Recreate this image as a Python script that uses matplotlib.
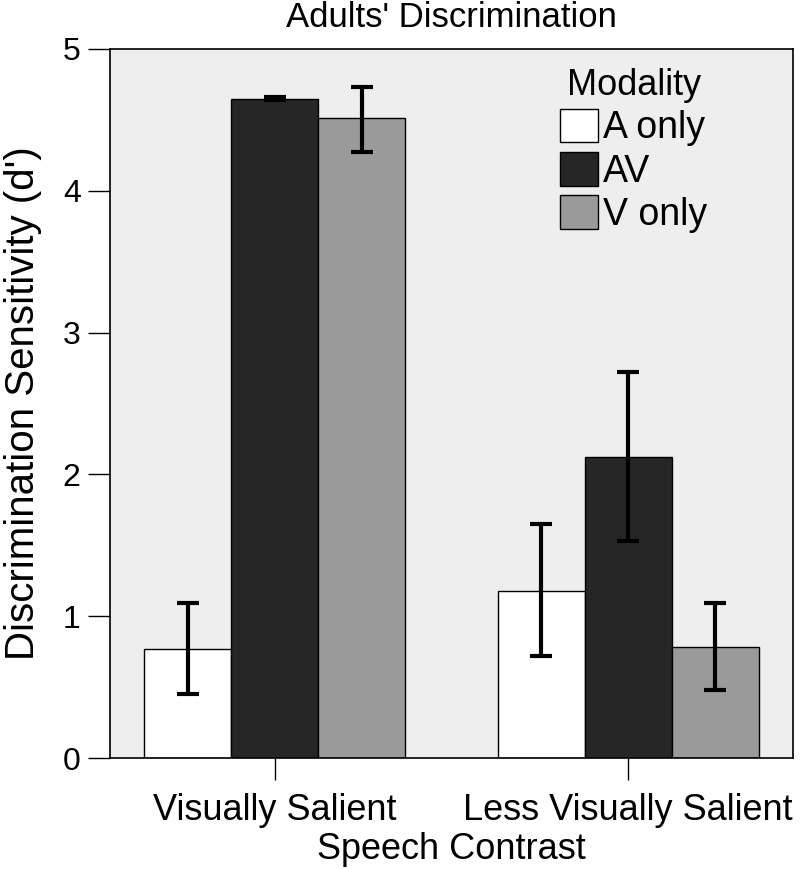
import numpy as np
import matplotlib
matplotlib.use("Agg")
import matplotlib.pyplot as plt

plt.rcParams['font.family'] = ['Liberation Sans', 'DejaVu Sans']

contrasts = ["Visually Salient", "Less Visually Salient"]
modalities = ["A only", "AV", "V only"]
colors = ["#ffffff", "#262626", "#9a9a9a"]

# mean d' and error bar bounds per modality (VS, LVS)
means = {
    "A only": [0.77, 1.18],
    "AV": [4.65, 2.12],
    "V only": [4.51, 0.78],
}
err_low = {
    "A only": [0.45, 0.72],
    "AV": [4.64, 1.53],
    "V only": [4.27, 0.48],
}
err_high = {
    "A only": [1.09, 1.65],
    "AV": [4.66, 2.72],
    "V only": [4.73, 1.09],
}

fig = plt.figure(figsize=(8.02, 8.69), dpi=100)
ax = fig.add_axes([0.137, 0.1277, 0.852, 0.816])
ax.set_facecolor("#eeeeee")

x = np.arange(len(contrasts))
w = 0.246
for i, m in enumerate(modalities):
    pos = x + (i - 1) * w
    vals = np.array(means[m])
    lo = vals - np.array(err_low[m])
    hi = np.array(err_high[m]) - vals
    ax.bar(pos, vals, w, color=colors[i], edgecolor="black", linewidth=1.0,
           label=m, zorder=2)
    ax.errorbar(pos, vals, yerr=[lo, hi], fmt="none", ecolor="black",
                elinewidth=3.0, capsize=8, capthick=3.0, zorder=3)

ax.set_xlim(-0.467, 1.467)
ax.set_ylim(0, 5)
ax.set_yticks([0, 1, 2, 3, 4, 5])
ax.set_xticks(x)
ax.set_xticklabels(contrasts, fontsize=26)
ax.tick_params(axis="y", labelsize=23, length=16, width=1, pad=5)
ax.tick_params(axis="x", length=16, width=1, pad=9)
for s in ax.spines.values():
    s.set_linewidth(1.2)

ax.set_ylabel("Discrimination Sensitivity (d')", fontsize=29, labelpad=15)
ax.set_xlabel("Speech Contrast", fontsize=26, labelpad=3)
ax.set_title("Adults' Discrimination", fontsize=25, pad=16)

leg = ax.legend(title="Modality", loc="upper left", bbox_to_anchor=(0.659, 0.973),
                frameon=False, fontsize=27, title_fontsize=26,
                handlelength=1.0, handleheight=1.0, handletextpad=0.15,
                labelspacing=0.15, borderaxespad=0, borderpad=0)

fig.savefig("out.png", dpi=100)
